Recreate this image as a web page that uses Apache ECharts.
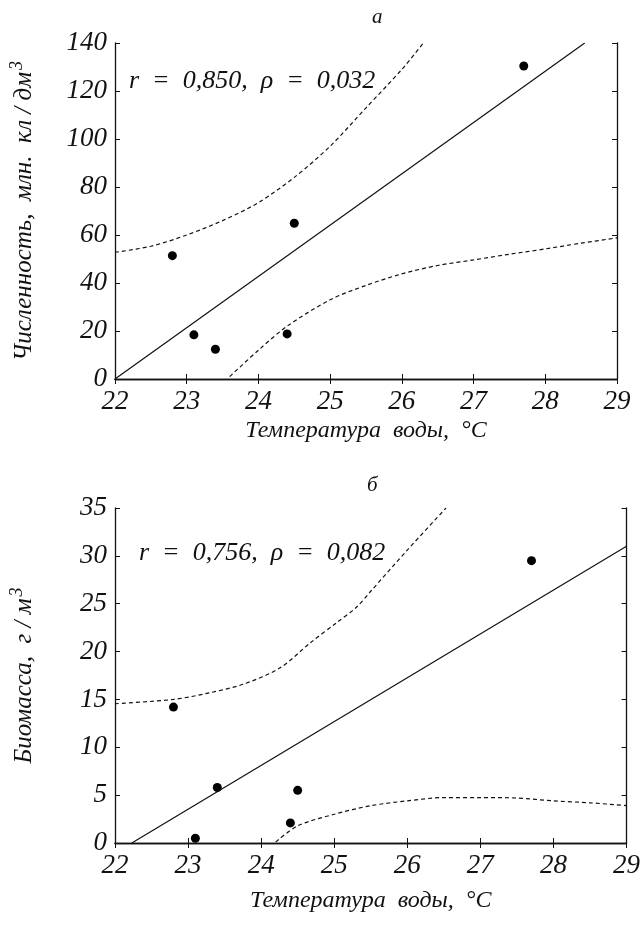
<!DOCTYPE html>
<html><head><meta charset="utf-8">
<script src="https://cdn.jsdelivr.net/npm/echarts@6/dist/echarts.min.js"></script>
<style>html,body{margin:0;padding:0;background:#fff}#c{width:643px;height:927px}</style>
</head><body><div id="c"></div>
<script>
// ---- Panel а: численность ----
const tempA = [22.8, 23.1, 23.4, 24.4, 24.5, 27.7];
const countA = [51.4, 18.4, 12.4, 18.8, 64.9, 130.4];
const fitAx = [22, 28.55];
const fitAy = [0, 140];
const upperAx = [22, 22.5, 23, 23.5, 24, 24.5, 25, 25.5, 26, 26.3];
const upperAy = [52.8, 55.3, 60, 66, 73.5, 84, 97, 113, 129, 140];
const lowerAx = [23.6, 24, 24.4, 25, 25.5, 26, 26.5, 27, 27.5, 28, 28.5, 29];
const lowerAy = [1, 12, 22, 33, 39, 43.8, 47.3, 49.6, 52, 54.2, 56.6, 58.8];
// ---- Panel б: биомасса ----
const tempB = [22.8, 23.1, 23.4, 24.4, 24.5, 27.7];
const massB = [14.2, 0.5, 5.8, 2.1, 5.5, 29.5];
const fitBx = [22.23, 29];
const fitBy = [0, 31.0];
const upperBx = [22, 22.8, 23.3, 23.76, 24.26, 24.67, 25.03, 25.3, 25.5, 26, 26.53];
const upperBy = [14.55, 15.0, 15.7, 16.6, 18.3, 20.9, 23.0, 24.6, 26.3, 30.6, 35];
const lowerBx = [24.2, 24.5, 25, 25.5, 26, 26.5, 27, 27.5, 28, 28.5, 29];
const lowerBy = [0.1, 1.8, 3.0, 3.9, 4.4, 4.75, 4.75, 4.7, 4.4, 4.2, 3.9];
// ---- axes / texts ----
const xMin = 22, xMax = 29, xStep = 1;
const yA = {min: 0, max: 140, step: 20};
const yB = {min: 0, max: 35, step: 5};
const xTitle = 'Температура  воды,  °С';
const yTitleA = 'Численность,  млн.  кл / дм';
const yTitleB = 'Биомасса,  г / м';
const statA = 'r  =  0,850,  ρ  =  0,032';
const statB = 'r  =  0,756,  ρ  =  0,082';
const panelA = 'а', panelB = 'б';

const zip = (xs, ys) => xs.map((x, i) => [x, ys[i]]);
const FONT = 'Liberation Serif';
const txt = {color: '#111', fontFamily: FONT, fontStyle: 'italic'};
const line = {show: true, lineStyle: {color: '#111', width: 1.3}};
const tick = {show: true, inside: true, length: 5, lineStyle: {color: '#111', width: 1}};

function xAxes(grid) {
  return [
    {type: 'value', gridIndex: grid, position: 'bottom', min: xMin, max: xMax, interval: xStep,
     axisLine: line, axisTick: tick, splitLine: {show: false},
     axisLabel: Object.assign({fontSize: 27, margin: 9}, txt),
     name: xTitle, nameLocation: 'middle', nameGap: grid === 0 ? 40 : 46,
     nameTextStyle: Object.assign({fontSize: 24}, txt)},
    {type: 'value', gridIndex: grid, position: 'top', min: xMin, max: xMax, interval: xStep,
     axisLine: line, axisTick: tick, splitLine: {show: false}, axisLabel: {show: false}}
  ];
}
function yAxes(grid, r, title) {
  return [
    {type: 'value', gridIndex: grid, position: 'left', min: r.min, max: r.max, interval: r.step,
     axisLine: line, axisTick: tick, splitLine: {show: false},
     axisLabel: Object.assign({fontSize: 27, margin: 8}, txt),
     name: '{a|' + title + '}{s|3}', nameLocation: 'middle', nameGap: 75,
     nameTextStyle: Object.assign({fontSize: 25, rich: {
       a: Object.assign({fontSize: 25}, txt),
       s: Object.assign({fontSize: 18, verticalAlign: 'top', padding: [0, 0, 14, 2]}, txt)}}, txt)},
    {type: 'value', gridIndex: grid, position: 'right', min: r.min, max: r.max, interval: r.step,
     axisLine: line, axisTick: tick, splitLine: {show: false}, axisLabel: {show: false}}
  ];
}
function seriesFor(grid, px, py, fx, fy, ux, uy, lx, ly) {
  const xi = grid * 2, yi = grid * 2;
  const dash = {color: '#111', width: 1.2, type: [4, 3]};
  return [
    {type: 'line', xAxisIndex: xi, yAxisIndex: yi, data: zip(fx, fy), symbol: 'none',
     lineStyle: {color: '#111', width: 1.2}, clip: true, silent: true},
    {type: 'line', xAxisIndex: xi, yAxisIndex: yi, data: zip(ux, uy), symbol: 'none',
     smooth: 0.3, lineStyle: dash, clip: true, silent: true},
    {type: 'line', xAxisIndex: xi, yAxisIndex: yi, data: zip(lx, ly), symbol: 'none',
     smooth: 0.3, lineStyle: dash, clip: true, silent: true},
    {type: 'scatter', xAxisIndex: xi, yAxisIndex: yi, data: zip(px, py), symbol: 'circle',
     symbolSize: 9, itemStyle: {color: '#000', opacity: 1}, silent: true}
  ];
}

const chart = echarts.init(document.getElementById('c'), null, {renderer: 'canvas'});
chart.setOption({
  animation: false,
  backgroundColor: '#fff',
  title: [
    {text: panelA, left: 367, top: 2, textStyle: Object.assign({fontSize: 21, fontWeight: 'normal'}, txt)},
    {text: panelB, left: 362, top: 470, textStyle: Object.assign({fontSize: 21, fontWeight: 'normal'}, txt)},
    {text: statA, left: 124, top: 63, textStyle: Object.assign({fontSize: 26, fontWeight: 'normal'}, txt)},
    {text: statB, left: 134, top: 535, textStyle: Object.assign({fontSize: 26, fontWeight: 'normal'}, txt)}
  ],
  grid: [
    {left: 115, top: 43, width: 502, height: 336},
    {left: 115, top: 508, width: 512, height: 335}
  ],
  xAxis: xAxes(0).concat(xAxes(1)),
  yAxis: yAxes(0, yA, yTitleA).concat(yAxes(1, yB, yTitleB)),
  series: seriesFor(0, tempA, countA, fitAx, fitAy, upperAx, upperAy, lowerAx, lowerAy)
    .concat(seriesFor(1, tempB, massB, fitBx, fitBy, upperBx, upperBy, lowerBx, lowerBy))
});
</script>
</body></html>
